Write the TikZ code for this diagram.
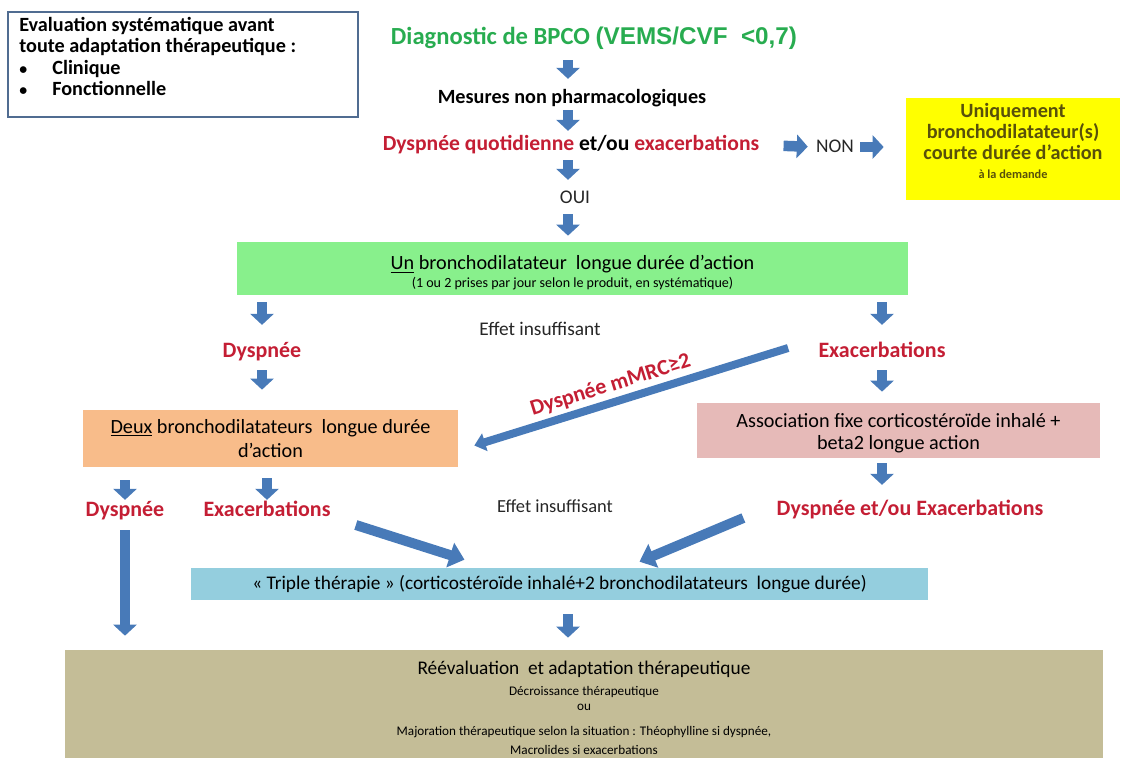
\documentclass[tikz,border=0pt]{standalone}
\usepackage{fontspec}
\setmainfont{Carlito}
\newfontfamily\arialfont{Liberation Sans}
\usepackage{tikz}
\usetikzlibrary{arrows.meta,calc}
\definecolor{BPCOVert}{RGB}{40,172,80}
\definecolor{BPCORouge}{RGB}{196,30,52}
\definecolor{BPCOBleu}{RGB}{72,122,184}
\definecolor{BPCOCadre}{RGB}{80,108,145}
\definecolor{BPCOOlive}{RGB}{88,80,10}
\definecolor{BPCOBoiteVert}{RGB}{136,240,140}
\definecolor{BPCOBoiteJaune}{RGB}{255,255,0}
\definecolor{BPCOBoiteOrange}{RGB}{248,188,138}
\definecolor{BPCOBoiteRose}{RGB}{230,186,184}
\definecolor{BPCOBoiteBleu}{RGB}{148,206,222}
\definecolor{BPCOBoiteKaki}{RGB}{196,189,151}

\begin{document}
\begin{tikzpicture}[x=0.02cm,y=-0.02cm,
lbl/.style={inner sep=0pt,text height=8pt,text depth=2pt,font=\bfseries\fontsize{11.5}{13}\selectfont},
rouge/.style={lbl,text=BPCORouge,font=\bfseries\fontsize{12.5}{14}\selectfont},
simple/.style={lbl,font=\fontsize{11}{13}\selectfont,text=black!85},
boite/.style n args={3}{rectangle,fill=#1,minimum width=#2,minimum height=#3,inner sep=0pt,align=center,font=\fontsize{11.5}{14}\selectfont},
fleche/.style={draw=BPCOBleu,line width=0.21cm,-{Triangle[width=0.46cm,length=0.22cm]}},
grosse/.style={draw=BPCOBleu,line width=0.2cm,-{Triangle[width=0.5cm,length=0.3cm]}}]
\useasboundingbox (0,0) rectangle (1125,758);
% boites
\node[draw=BPCOCadre,line width=1.2pt,rectangle,minimum width=7cm,minimum height=2.1cm] (eval) at (183,64.5) {};
\node[anchor=north west,align=left,inner sep=0pt,font=\bfseries\fontsize{11.5}{12.2}\selectfont] (evaltxt) at (19,17)
  {Evaluation systématique avant\\toute adaptation thérapeutique :\\\makebox[0.66cm][l]{\fontsize{9}{9}\selectfont•}Clinique\\\makebox[0.66cm][l]{\fontsize{9}{9}\selectfont•}Fonctionnelle};
\node[boite={BPCOBoiteJaune}{4.28cm}{2.04cm},text=BPCOOlive,font=\bfseries\fontsize{11.5}{12}\selectfont] (courte) at (1013,149)
  {Uniquement\\bronchodilatateur(s)\\courte durée d’action\\[-1pt]{\fontsize{7}{8}\selectfont à la demande}\rule[-9pt]{0pt}{0pt}};
\node[boite={BPCOBoiteVert}{13.42cm}{1.06cm}] (un) at (572.5,268.5)
  {\rule{0pt}{13pt}\underline{Un} bronchodilatateur\ \ longue durée d’action\\[-3.7pt]{\fontsize{8}{9}\selectfont (1 ou 2 prises par jour selon le produit, en systématique)}};
\node[boite={BPCOBoiteOrange}{7.5cm}{1.14cm}] (deux) at (270.5,438.5)
  {\underline{Deux} bronchodilatateurs\ \ longue durée\\d’action};
\node[boite={BPCOBoiteRose}{8.06cm}{1.1cm}] (asso) at (898.5,430.5)
  {\rule{0pt}{11pt}Association fixe corticostéroïde inhalé +\\[-1pt]beta2 longue action};
\node[boite={BPCOBoiteBleu}{14.74cm}{0.64cm},font=\fontsize{11}{13}\selectfont] (triple) at (559.5,584)
  {« Triple thérapie » (corticostéroïde inhalé+2 bronchodilatateurs\ \ longue durée)};
\node[boite={BPCOBoiteKaki}{20.76cm}{2.16cm},font=\fontsize{7.5}{10}\selectfont] (reeval) at (584,704)
  {\rule{0pt}{12pt}{\fontsize{11}{13}\selectfont Réévaluation\ \ et adaptation thérapeutique}\\[2pt]
   Décroissance thérapeutique\\[-1pt]ou\\[4pt]
   Majoration thérapeutique selon la situation : Théophylline si dyspnée,\\[1pt]
   Macrolides si exacerbations};
% textes
\node[lbl,text=BPCOVert,font=\bfseries\fontsize{14}{16}\selectfont,text height=10pt,text depth=2.5pt] (diag) at (594,38)
  {Diagnostic de BPCO {\arialfont\fontsize{13.8}{16}\selectfont(VEMS/CVF\ \ <0,7)}};
\node[lbl] (mesures) at (572,98) {Mesures non pharmacologiques};
\node[lbl,font=\bfseries\fontsize{12.3}{14}\selectfont] (dysq) at (571,145) {\textcolor{BPCORouge}{Dyspnée quotidienne} et/ou \textcolor{BPCORouge}{exacerbations}};
\node[simple] (non) at (835,147) {NON};
\node[simple] (oui) at (575,198) {OUI};
\node[rouge] (dysp1) at (262,352) {Dyspnée};
\node[rouge] (exac1) at (882,352) {Exacerbations};
\node[simple] (effet1) at (540,330) {Effet insuffisant};
\node[rouge] (dysp2) at (125,511) {Dyspnée};
\node[rouge] (exac2) at (267,511) {Exacerbations};
\node[simple,font=\fontsize{10.5}{12}\selectfont] (effet2) at (555,507) {Effet insuffisant};
\node[rouge] (dyex) at (910,510) {Dyspnée et/ou Exacerbations};
% fleches
\coordinate (axe) at (568,0);
\draw[fleche,shorten <=.22cm,shorten >=.2cm] (axe |- diag.south) -- (axe |- mesures.north);
\draw[fleche,shorten <=.06cm,shorten >=.1cm] (axe |- mesures.south) -- (axe |- dysq.north);
\draw[fleche,shorten <=.12cm,shorten >=.18cm] (axe |- dysq.south) -- (axe |- oui.north);
\draw[fleche,shorten <=.14cm,shorten >=.12cm] (axe |- oui.south) -- (axe |- un.north);
\draw[fleche,shorten <=.48cm,shorten >=.16cm] (dysq.east) -- (non.west);
\draw[fleche,shorten <=.12cm,shorten >=.44cm] (non.east) -- (courte.west |- non);
\foreach \n in {dysp1,exac1}
  \draw[fleche,shorten <=.14cm,shorten >=.36cm] (\n |- un.south) -- (\n.north);
\draw[fleche,shorten <=.18cm,shorten >=.4cm] (dysp1.south) -- (dysp1 |- deux.north);
\draw[fleche,shorten <=.18cm,shorten >=.22cm] (exac1.south) -- (exac1 |- asso.north);
\draw[draw=BPCOBleu,line width=0.16cm,-{Triangle[width=0.36cm,length=0.22cm]}]
  ($(exac1.west)+(-30,-4)$) -- node[rouge,sloped,above=2pt,pos=0.55] (mmrc) {Dyspnée mMRC≥2} ($(deux.east)+(16,7)$);
\foreach \n/\a/\b in {dysp2/.26cm/.04cm,exac2/.22cm/.04cm}
  \draw[fleche,shorten <=\a,shorten >=\b] (\n |- deux.south) -- (\n.north);
\draw[fleche,shorten <=.1cm,shorten >=.32cm] (exac1 |- asso.south) -- (exac1 |- dyex.north);
\draw[grosse] ($(exac2.east)+(25,14)$) -- ($(triple.north)+(-95,-8)$);
\draw[grosse] ($(dyex.west)+(-33,8)$) -- ($(triple.north)+(80,-6)$);
\draw[fleche,shorten <=.2cm,shorten >=.28cm] (dysp2.south) -- (dysp2 |- reeval.north);
\draw[fleche,shorten <=.28cm,shorten >=.24cm] (axe |- triple.south) -- (axe |- reeval.north);
\end{tikzpicture}
\end{document}
